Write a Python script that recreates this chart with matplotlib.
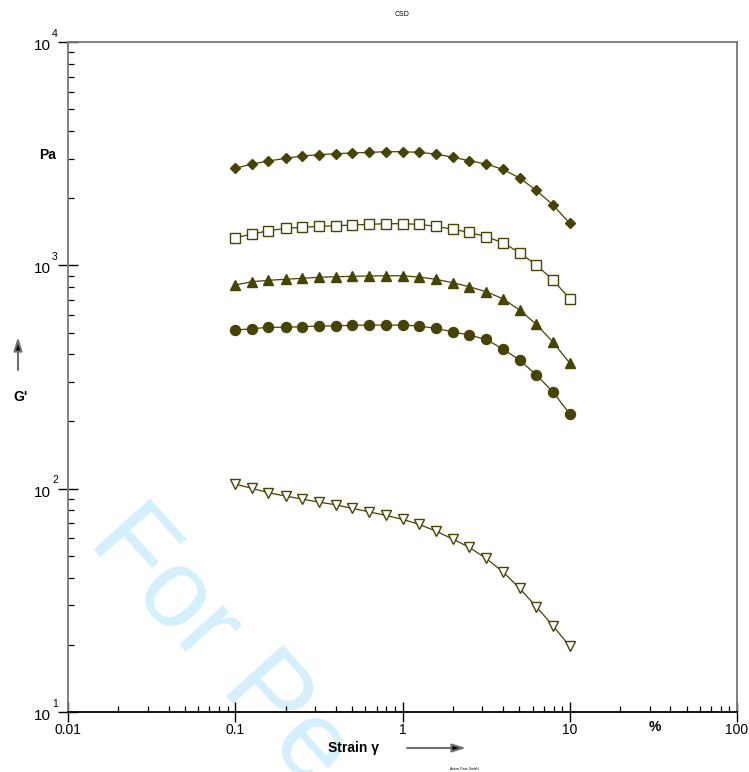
import numpy as np
import matplotlib.pyplot as plt
from matplotlib.ticker import LogLocator, NullFormatter

plt.rcParams['font.family'] = ['Liberation Sans', 'DejaVu Sans']

# Strain sweep, 10 points per decade from 0.1 % to 10 %
strain = [0.1, 0.126, 0.158, 0.2, 0.251, 0.316, 0.398, 0.501, 0.631, 0.794,
          1.0, 1.26, 1.58, 2.0, 2.51, 3.16, 3.98, 5.01, 6.31, 7.94, 10.0]

# Storage modulus G' (Pa) for each sample
g_diamond = [2720, 2842, 2932, 3014, 3087, 3129, 3161, 3184, 3206, 3226,
             3226, 3206, 3151, 3046, 2940, 2842, 2691, 2460, 2167, 1862, 1542]
g_square = [1329, 1381, 1428, 1464, 1480, 1495, 1504, 1515, 1526, 1536,
            1536, 1526, 1495, 1450, 1405, 1343, 1263, 1139, 1003, 859, 709]
g_triangle = [816, 845, 857, 866, 875, 884, 889, 893, 896, 898,
              898, 886, 866, 836, 802, 762, 709, 631, 544, 453, 365]
g_circle = [513, 520, 528, 528, 531, 535, 536, 539, 540, 540,
            540, 535, 522, 504, 487, 466, 422, 377, 323, 271, 216]
g_tri_down = [104.9, 100.3, 95.9, 92.7, 89.8, 87.1, 84.7, 81.6, 78.8, 75.9,
              72.9, 69.2, 64.6, 59.5, 54.6, 48.7, 42.5, 35.8, 29.6, 24.3, 19.7]

x_ticks = [0.01, 0.1, 1, 10, 100]
x_labels = ['0.01', '0.1', '1', '10', '100']
y_exps = [1, 2, 3, 4]

olive = '#474300'

fig = plt.figure(figsize=(7.49, 7.72), dpi=100)
ax = fig.add_axes([0.0908, 0.0777, 0.8932, 0.8679])
ax.set_facecolor('none')

# watermark behind everything
ax.text(0.116, 0.298, 'For Pe', transform=fig.transFigure, rotation=-48,
        rotation_mode='anchor', ha='left', va='baseline', fontsize=80,
        color='#d4f0fc', zorder=0, clip_on=False)

series = [
    (g_diamond, 'D', 5.5, olive),
    (g_square, 's', 7.5, 'white'),
    (g_triangle, '^', 7.8, olive),
    (g_circle, 'o', 7.2, olive),
    (g_tri_down, 'v', 7.8, 'white'),
]
for vals, mk, ms, fc in series:
    ax.plot(strain, vals, color=olive, lw=0.9, marker=mk, ms=ms,
            mfc=fc, mec=olive, mew=1.0, zorder=3)

ax.set_xscale('log')
ax.set_yscale('log')
ax.set_xlim(0.01, 100)
ax.set_ylim(10, 1e4)

for s in ['left', 'top', 'right']:
    ax.spines[s].set_color('#777777')
    ax.spines[s].set_linewidth(1.3)
ax.spines['bottom'].set_color('black')
ax.spines['bottom'].set_linewidth(1.3)

ax.set_xticks(x_ticks)
ax.set_xticklabels(x_labels)
ax.set_yticks([10.0 ** e for e in y_exps])
ax.set_yticklabels([])
ax.xaxis.set_minor_locator(LogLocator(base=10, subs=np.arange(2, 10), numticks=20))
ax.yaxis.set_minor_locator(LogLocator(base=10, subs=np.arange(2, 10), numticks=20))
ax.xaxis.set_minor_formatter(NullFormatter())
ax.yaxis.set_minor_formatter(NullFormatter())
ax.tick_params(which='major', direction='inout', length=14, width=1.0,
               color='black', labelsize=10, pad=1)
ax.tick_params(which='minor', direction='in', length=4, width=0.9, color='black')
ax.tick_params(top=False, right=False, which='both')

# y tick labels drawn as 10 with a raised exponent
for e in y_exps:
    y = 1 - (712 - (e - 1) * 223.3) / 772
    fig.text(51 / 749, y - 0.005, '10', ha='right', va='center', fontsize=11)
    fig.text(52 / 749, y + 0.011, str(e), ha='left', va='center', fontsize=7.5)

bold = dict(fontsize=10, fontweight='bold')
fig.text(48 / 749, 1 - 155 / 772, 'Pa', ha='center', va='center', **bold)
fig.text(20 / 749, 1 - 397 / 772, "G'", ha='center', va='center', **bold)
fig.text(655 / 749, 1 - 727 / 772, '%', ha='center', va='center', **bold)
fig.text(353 / 749, 1 - 748 / 772, 'Strain γ', ha='center', va='center', **bold)
fig.text(402 / 749, 1 - 14 / 772, 'CSD', ha='center', va='center', fontsize=5)
fig.text(464 / 749, 1 - 769 / 772, 'Anton Paar GmbH', ha='center', va='center',
         fontsize=2.5)

arrow = dict(arrowstyle='-|>,head_length=0.8,head_width=0.25', color='#707070',
             lw=1.5, shrinkA=0, shrinkB=0)
ax.annotate('', xy=(18 / 749, 1 - 337 / 772), xytext=(18 / 749, 1 - 370 / 772),
            xycoords='figure fraction', textcoords='figure fraction',
            arrowprops=dict(arrow, fc='black', ec='#707070'), annotation_clip=False)
ax.annotate('', xy=(466 / 749, 1 - 748 / 772), xytext=(407 / 749, 1 - 748 / 772),
            xycoords='figure fraction', textcoords='figure fraction',
            arrowprops=dict(arrow, fc='black', ec='#707070'), annotation_clip=False)

fig.savefig('out.png', dpi=100)
